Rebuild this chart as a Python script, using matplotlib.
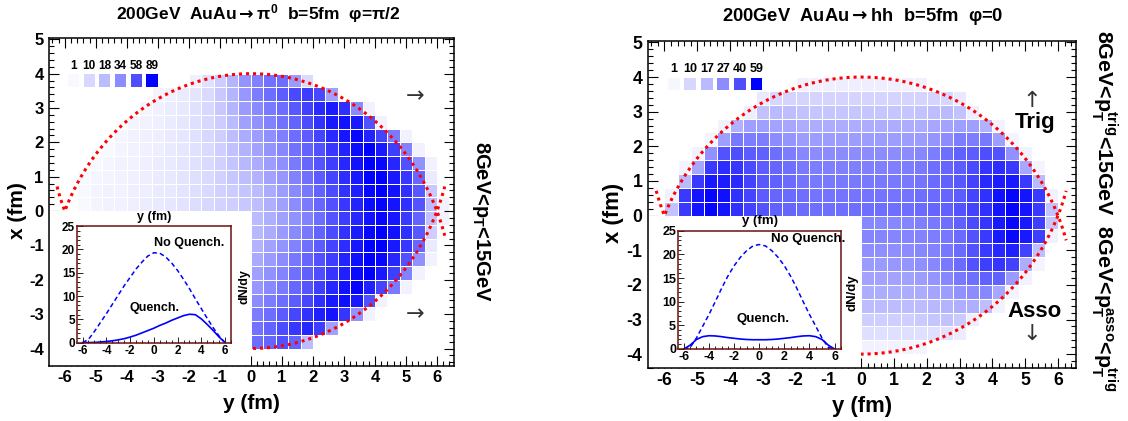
import numpy as np
import matplotlib
matplotlib.use("Agg")
import matplotlib.pyplot as plt
from matplotlib.colors import LinearSegmentedColormap, Normalize
from matplotlib.patches import Rectangle
from matplotlib.ticker import MultipleLocator

plt.rcParams["font.family"] = ["Liberation Sans", "DejaVu Sans"]
plt.rcParams["font.weight"] = "bold"
plt.rcParams["axes.unicode_minus"] = False
plt.rcParams["mathtext.fontset"] = "custom"
plt.rcParams["mathtext.rm"] = "Liberation Sans:bold"
plt.rcParams["mathtext.it"] = "Liberation Sans:bold"
plt.rcParams["mathtext.bf"] = "Liberation Sans:bold"
plt.rcParams["mathtext.sf"] = "DejaVu Sans"

# ---- grid of production points: 0.4 fm cells, y in [-6.4, 6.4], x in [-4, 4]
y_edges = np.arange(-16, 17) * 0.4
x_edges = np.arange(-10, 11) * 0.4
Z = [0] * 16

# rows from top (x = 3.6..4.0) to bottom (x = -4.0..-3.6), 32 columns in y
pi0_counts = [
    [0]*11 + [3, 7, 13, 20, 31, 38, 44, 46, 29, 9] + [0]*11,
    [0]*8 + [1.5, 2.5, 4, 6, 9, 14, 20, 30, 40, 46, 52, 60, 65, 60, 27] + [0]*9,
    [0]*7 + [1.5, 2.5, 3.5, 5, 7, 10, 14, 20, 29, 35, 41, 46, 54, 63, 72, 78, 70, 35, 2] + [0]*6,
    [0]*6 + [1.5, 2, 3, 4, 5.5, 7.5, 10, 13, 18, 27, 32, 38, 44, 50, 59, 69, 79, 82, 79, 57, 2] + [0]*5,
    [0]*5 + [1.2, 1.8, 2.5, 3.2, 4.2, 5.5, 7, 9.5, 12.5, 17, 23, 28, 33, 39, 46, 52, 62, 72, 80, 86, 75, 62, 41, 2] + [0]*3,
    [0]*4 + [1, 1.5, 2, 2.7, 3.4, 4.3, 5.5, 7, 9, 12, 16, 21, 26, 31, 36, 44, 50, 57, 67, 75, 84, 89, 79, 64, 38, 2] + [0]*2,
    [0]*3 + [1, 1.3, 1.8, 2.3, 3, 3.7, 4.6, 5.8, 7.2, 9, 11.5, 15, 19, 23, 28, 33, 41, 48, 56, 64, 74, 82, 89, 86, 74, 57, 32, 2] + [0]*1,
    [0]*2 + [1, 1.3, 1.6, 2, 2.5, 3.2, 4, 5, 6, 7.5, 9, 11.5, 14.5, 17, 21, 26, 30, 38, 45, 53, 62, 71, 79, 88, 89, 79, 67, 48, 4] + [0]*1,
    [0]*2 + [1, 1.4, 1.8, 2.2, 2.8, 3.4, 4.2, 5.2, 6.2, 7.8, 9.3, 11.5, 13, 15, 18, 23, 28, 35, 42, 50, 59, 69, 77, 86, 89, 82, 70, 54, 14] + [0]*1,
    [0]*2 + [1, 1.4, 1.9, 2.4, 3, 3.6, 4.5, 5.5, 6.5, 8, 9.5, 11, 12.5, 14, 17, 22, 27, 34, 41, 48, 57, 67, 75, 84, 87, 81, 70, 56, 18, 2],
    Z + [18, 22, 27, 32, 38, 46, 56, 65, 74, 82, 86, 80, 66, 50, 16, 2],
    Z + [19, 23, 29, 35, 42, 50, 59, 69, 78, 86, 89, 82, 70, 54, 12, 0],
    Z + [21, 26, 31, 38, 45, 53, 62, 71, 80, 88, 89, 79, 67, 48, 4, 0],
    Z + [24, 29, 34, 42, 49, 57, 65, 75, 83, 89, 86, 74, 57, 32, 2, 0],
    Z + [27, 32, 37, 45, 51, 58, 68, 76, 85, 89, 79, 64, 38, 2, 0, 0],
    Z + [30, 35, 41, 48, 55, 64, 74, 82, 87, 76, 62, 41, 2, 0, 0, 0],
    Z + [34, 40, 46, 52, 61, 70, 79, 83, 79, 57, 2, 0, 0, 0, 0, 0],
    Z + [40, 46, 53, 61, 69, 77, 81, 68, 32, 2, 0, 0, 0, 0, 0, 0],
    Z + [44, 50, 59, 67, 74, 64, 27, 0, 0, 0, 0, 0, 0, 0, 0, 0],
    Z + [46, 49, 57, 50, 18, 0, 0, 0, 0, 0, 0, 0, 0, 0, 0, 0],
]

hh_counts = [
    [0]*11 + [2.4, 2.6, 2.8, 3, 3, 3, 3, 2.8, 2.6, 2.4] + [0]*11,
    [0]*8 + [4.5, 10, 10.5, 10.5, 10.5, 10.5, 10.5, 10.5, 10.5, 10.5, 10.5, 10.5, 10.5, 10.5, 10, 4.5] + [0]*8,
    [0]*7 + [3, 15, 17, 16, 15, 14, 14, 14, 14, 14, 14, 14, 14, 15, 16, 17, 15, 3] + [0]*7,
    [0]*5 + [2, 19, 23, 23, 22, 21, 20, 20, 20, 20, 20, 20, 20, 20, 20, 20, 21, 22, 23, 23, 19, 2] + [0]*5,
    [0]*4 + [1.5, 23, 31, 30, 30, 27, 25, 23.5, 23.5, 23.5, 23.5, 23.5, 23.5, 23.5, 23.5, 23.5, 23.5, 25, 27, 30, 30, 31, 23, 1.5] + [0]*4,
    [0]*3 + [2, 26, 39, 40, 37, 36, 33, 30, 28, 27, 27, 27, 27, 27, 27, 27, 27, 28, 30, 33, 36, 37, 40, 39, 26, 2] + [0]*3,
    [0]*2 + [1.5, 21, 45, 48, 46, 41, 37, 35, 33, 31, 30, 29.5, 29.5, 29.5, 29.5, 29.5, 29.5, 30, 31, 33, 35, 37, 41, 46, 48, 45, 21, 1.5] + [0]*2,
    [0]*2 + [17, 45, 53, 52, 49, 43, 38, 36, 34, 32, 31, 31, 31, 31, 31, 31, 31, 31, 32, 34, 36, 38, 43, 49, 52, 53, 45, 17] + [0]*2,
    [0]*1 + [2, 45, 54, 58, 55, 47, 42, 37, 35, 34, 33, 32, 32, 32, 32, 32, 32, 32, 32, 33, 34, 35, 37, 42, 47, 55, 58, 54, 45, 2] + [0]*1,
    [0]*1 + [15, 45, 54, 58, 54, 47, 43, 39, 36, 35, 34, 33, 33, 33, 33, 33, 33, 33, 33, 34, 35, 36, 39, 43, 47, 54, 58, 54, 45, 15] + [0]*1,
    Z + [28, 28, 28, 28.5, 29.5, 31, 33, 36, 41, 46, 53, 57, 53, 44, 14, 0],
    Z + [28.5, 28.5, 28.5, 28.5, 29, 30, 31.5, 34, 39, 45, 53, 57, 53, 44, 2, 0],
    Z + [26.5, 26.5, 26.5, 27, 28, 29, 31.5, 34, 39, 45, 49, 51, 43, 16, 0, 0],
    Z + [24, 24, 24.5, 25, 26.5, 28, 31, 34, 39, 44, 46, 43, 20, 1.5, 0, 0],
    Z + [22, 22, 22, 22.5, 23.5, 25, 28, 31, 33, 36, 36, 24, 2, 0, 0, 0],
    Z + [20, 20, 20, 20, 20.5, 21.5, 23.5, 26, 27, 28, 21, 1.5, 0, 0, 0, 0],
    Z + [16.5, 16.5, 16.5, 16.5, 16.5, 17.5, 18.5, 19.5, 19.5, 16, 2, 0, 0, 0, 0, 0],
    Z + [12, 12, 12, 12, 13, 14, 15, 13, 3, 0, 0, 0, 0, 0, 0, 0],
    Z + [7.5, 7.5, 7.5, 7.5, 7.5, 7.5, 7, 3.5, 0, 0, 0, 0, 0, 0, 0, 0],
    Z + [2, 2, 2, 1.8, 1.6, 0, 0, 0, 0, 0, 0, 0, 0, 0, 0, 0],
]

pi0_legend = [1, 10, 18, 34, 58, 89]
hh_legend = [1, 10, 17, 27, 40, 59]

# ---- inset curves dN/dy
y_curve = np.arange(-12, 13) * 0.5
pi0_noquench = [0, 0.7, 2.4, 4.3, 6.2, 8.2, 10.2, 12.2, 14.0, 15.8, 17.3, 18.6, 19.3,
                19.2, 18.4, 17.1, 15.5, 13.6, 11.6, 9.4, 7.3, 5.2, 3.2, 1.4, 0]
pi0_quench = [0, 0.02, 0.05, 0.15, 0.25, 0.4, 0.6, 0.85, 1.2, 1.6, 2.1, 2.6, 3.1,
              3.7, 4.2, 4.8, 5.3, 5.8, 6.1, 6.0, 5.1, 3.9, 2.6, 1.2, 0]
hh_noquench = [0, 0.3, 2.3, 4.8, 7.3, 10.0, 12.8, 15.4, 17.6, 19.4, 20.8, 21.8, 22.1,
               21.8, 20.8, 19.4, 17.6, 15.4, 12.8, 10.0, 7.3, 4.8, 2.3, 0.3, 0]
hh_quench = [0, 0.8, 2.0, 2.6, 2.8, 2.75, 2.6, 2.4, 2.25, 2.1, 2.0, 1.95, 1.95,
             1.95, 2.0, 2.1, 2.25, 2.4, 2.6, 2.75, 2.8, 2.6, 2.0, 0.8, 0]

# overlap geometry (fm)
b_imp = 5.0
R_nuc = 6.5

key_colors = ["#ffffff", "#f5f5ff", "#d6d6ff", "#babaff", "#8c8cff", "#4e4eff", "#0000ff"]


def make_cmap(levels, vmax):
    pos = [0] + [v / vmax for v in levels]
    return LinearSegmentedColormap.from_list("pal", list(zip(pos, key_colors)))


def draw_panel(ax, counts, legend_vals, title_xy, title, side_xy, side, yl, ins_box,
               noq, q, noq_xy, q_xy, ylab_xy, dndy_xy, lab_x, lab_y, fs):
    vmax = legend_vals[-1]
    cmap = make_cmap(legend_vals, vmax)
    norm = Normalize(0, vmax)
    grid = np.ma.masked_less_equal(np.flipud(np.array(counts, dtype=float)), 0)
    ax.pcolormesh(y_edges, x_edges, grid, cmap=cmap, norm=norm,
                  edgecolors="white", linewidth=0.7, zorder=1)

    yy = np.linspace(-6.25, 6.25, 400)
    root = np.sqrt(R_nuc**2 - yy**2)
    ax.plot(yy, -b_imp / 2 + root, color="red", lw=2.2, ls=(0, (1, 1.3)), zorder=1.5)
    ax.plot(yy, b_imp / 2 - root, color="red", lw=2.2, ls=(0, (1, 1.3)), zorder=1.5)

    # white pad hiding the lower-left quadrant
    ax.add_patch(Rectangle((-7, -5), 7, 5, facecolor="white", edgecolor="none", zorder=2))

    ax.set_xlim(-6.5, 6.55)
    ax.set_ylim(*yl)
    ax.xaxis.set_major_locator(MultipleLocator(1))
    ax.xaxis.set_minor_locator(MultipleLocator(0.2))
    ax.yaxis.set_major_locator(MultipleLocator(1))
    ax.yaxis.set_minor_locator(MultipleLocator(0.2))
    ax.tick_params(which="both", direction="in", top=True, right=True, labelsize=12 * fs, width=0.8)
    ax.tick_params(which="major", length=7)
    ax.tick_params(axis="x", which="major", pad=3)
    ax.tick_params(axis="y", which="major", pad=4)
    ax.tick_params(which="minor", length=3.5)
    for s in ax.spines.values():
        s.set_linewidth(1.1)
    ax.set_xlabel("y (fm)", fontsize=15 * fs, fontweight="bold")
    ax.set_ylabel("x (fm)", fontsize=15 * fs, fontweight="bold")
    ax.xaxis.set_label_coords(0.5, lab_y)
    ax.yaxis.set_label_coords(lab_x, 0.475)

    # colour key
    for i, v in enumerate(legend_vals):
        y0 = -5.9 + 0.506 * i
        ax.add_patch(Rectangle((y0, 3.62), 0.36, 0.36, facecolor=cmap(norm(v)),
                               edgecolor="none", zorder=3))
        ax.text(y0 + 0.18, 4.05, str(v), ha="center", va="bottom", fontsize=8.5 * fs, zorder=3)

    fig.text(title_xy[0], title_xy[1], title, ha="center", va="center", fontsize=12.5 * fs)
    fig.text(side_xy[0], side_xy[1], side, ha="center", va="center", fontsize=14.5 * fs, rotation=-90)

    ins = ax.inset_axes(ins_box, transform=ax.transData)
    ins.plot(y_curve, noq, color="#0000ff", lw=1.1, ls=(0, (3, 2)))
    ins.plot(y_curve, q, color="#0000ff", lw=1.2)
    ins.set_xlim(-6.45, 6.5)
    ins.set_ylim(0, 25)
    ins.xaxis.set_major_locator(MultipleLocator(2))
    ins.xaxis.set_minor_locator(MultipleLocator(0.5))
    ins.yaxis.set_major_locator(MultipleLocator(5))
    ins.yaxis.set_minor_locator(MultipleLocator(1))
    ins.tick_params(which="both", direction="in", labelsize=8.5 * fs, pad=1.5, width=0.6)
    ins.tick_params(which="major", length=4)
    ins.tick_params(which="minor", length=2)
    for s in ins.spines.values():
        s.set_color("#6b1010")
        s.set_linewidth(1.1)
    ins.text(noq_xy[0], noq_xy[1], "No Quench.", fontsize=9 * fs, ha="left", va="center")
    ins.text(q_xy[0], q_xy[1], "Quench.", fontsize=9 * fs, ha="left", va="center")
    ax.text(ylab_xy[0], ylab_xy[1], "y (fm)", fontsize=9 * fs, ha="center", va="center", zorder=3)
    ax.text(dndy_xy[0], dndy_xy[1], "dN/dy", fontsize=9 * fs, ha="center", va="center",
            rotation=90, zorder=3)
    return ins


fig = plt.figure(figsize=(11.28, 4.21), dpi=100)
ax1 = fig.add_axes([0.0437, 0.1314, 0.3588, 0.7777])
ax2 = fig.add_axes([0.5745, 0.1259, 0.3794, 0.7767])

draw_panel(ax1, pi0_counts, pi0_legend, (0.2287, 0.9667),
           "200GeV  AuAu$\\mathsf{\\rightarrow}\\pi^{0}$  b=5fm  φ=π/2",
           (0.4264, 0.4727), "8GeV<p$_{T}$<15GeV", (-4.5, 5.03),
           [-5.6, -3.83, 4.96, 3.39], pi0_noquench, pi0_quench,
           (0.05, 21.4), (-2.06, 7.5), (-3.12, -0.18), (-0.22, -2.2), -0.055, -0.085, 1.0)

draw_panel(ax2, hh_counts, hh_legend, (0.7645, 0.961),
           "200GeV  AuAu$\\mathsf{\\rightarrow}$hh  b=5fm  φ=0",
           (0.979, 0.50), "8GeV<p$_{T}^{trig}$<15GeV  8GeV<p$_{T}^{asso}$<p$_{T}^{trig}$",
           (-4.4, 5.04), [-5.58, -3.85, 4.96, 3.41], hh_noquench, hh_quench,
           (0.9, 23.2), (-1.8, 6.3), (-3.1, -0.17), (-0.27, -2.24), -0.055, -0.086, 1.06)

# emission direction markers
arrow_font = ["DejaVu Sans"]
ax1.text(5.3, 3.35, "→", fontsize=16, family=arrow_font, fontweight="normal", ha="center", va="center", color="#333333")
ax1.text(5.3, -3.0, "→", fontsize=16, family=arrow_font, fontweight="normal", ha="center", va="center", color="#333333")
ax2.text(5.21, 3.3, "↑", fontsize=16, family=arrow_font, fontweight="normal", ha="center", va="center", color="#333333")
ax2.text(5.29, 2.68, "Trig", fontsize=16, ha="center", va="center")
ax2.text(5.29, -2.78, "Asso", fontsize=16, ha="center", va="center")
ax2.text(5.21, -3.41, "↓", fontsize=16, family=arrow_font, fontweight="normal", ha="center", va="center", color="#333333")

fig.savefig("out.png", dpi=100)
